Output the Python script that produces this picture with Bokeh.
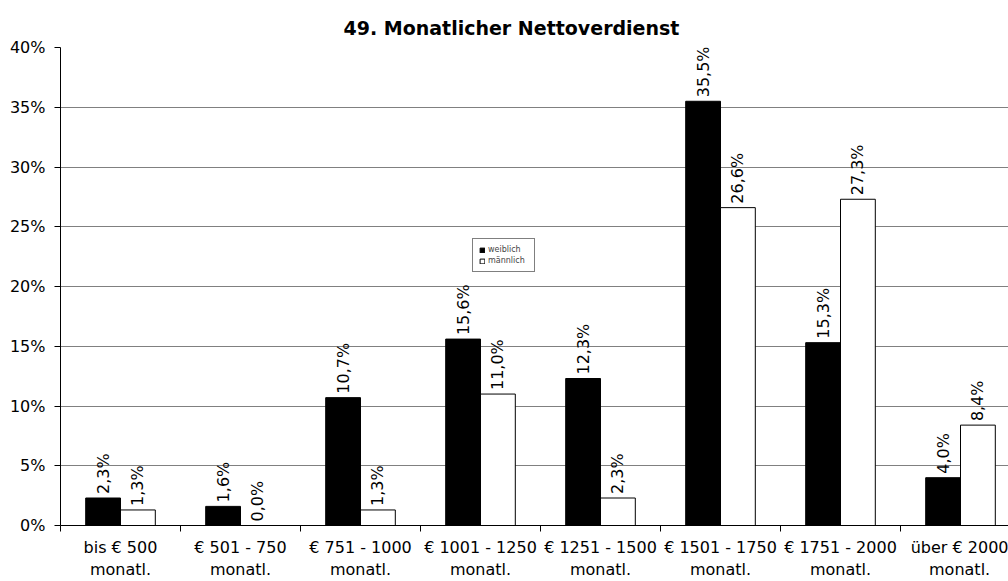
import math

from bokeh.core.properties import value
from bokeh.embed import file_html
from bokeh.models import (ColumnDataSource, FixedTicker, Legend,
                          LegendItem, Range1d)
from bokeh.plotting import figure
from bokeh.resources import INLINE

# Monthly net income by bracket, share of respondents in percent
categories = [
    "bis € 500\nmonatl.",
    "€ 501 - 750\nmonatl.",
    "€ 751 - 1000\nmonatl.",
    "€ 1001 - 1250\nmonatl.",
    "€ 1251 - 1500\nmonatl.",
    "€ 1501 - 1750\nmonatl.",
    "€ 1751 - 2000\nmonatl.",
    "über € 2000\nmonatl.",
]
weiblich = [2.3, 1.6, 10.7, 15.6, 12.3, 35.5, 15.3, 4.0]
maennlich = [1.3, 0.0, 1.3, 11.0, 2.3, 26.6, 27.3, 8.4]
y_ticks = [0, 5, 10, 15, 20, 25, 30, 35, 40]
title_text = "49. Monatlicher Nettoverdienst"

FONT = "DejaVu Sans"
BAR_W = 0.29
centers = [i + 0.5 for i in range(len(categories))]


def pct(v):
    return f"{v:.1f}".replace(".", ",") + "%"


src_w = ColumnDataSource(dict(
    x=[c - BAR_W / 2 for c in centers], top=weiblich,
    label=[pct(v) for v in weiblich]))
src_m = ColumnDataSource(dict(
    x=[c + BAR_W / 2 for c in centers], top=maennlich,
    label=[pct(v) for v in maennlich]))

p = figure(
    frame_width=948, frame_height=478,
    min_border_left=60, min_border_right=0, min_border_top=47,
    min_border_bottom=54,
    x_range=Range1d(0, 7.9), y_range=Range1d(0, 40),
    output_backend="svg", toolbar_location=None,
    title=title_text,
)
p.outline_line_color = None
p.background_fill_color = "white"
p.border_fill_color = "white"

p.title.align = "left"
p.title.offset = 283
p.title.standoff = 18
p.title.text_font = FONT
p.title.text_font_size = "19px"
p.title.text_font_style = "bold"
p.title.text_color = "black"

r_w = p.vbar(x="x", top="top", width=BAR_W, bottom=0, source=src_w,
             fill_color="black", line_color="black", line_width=1)
r_m = p.vbar(x="x", top="top", width=BAR_W, bottom=0, source=src_m,
             fill_color="white", line_color="black", line_width=1)

# value labels, rotated to read bottom-to-top above each bar
for src in (src_w, src_m):
    p.text(x="x", y="top", text="label", source=src, angle=math.pi / 2,
           text_align="left", text_baseline="middle", y_offset=-4,
           text_font=value(FONT), text_font_size="16px", text_color="black")

# x axis: labels centred on groups, tick marks on group boundaries
xa = p.xaxis[0]
xa.ticker = FixedTicker(ticks=centers,
                        minor_ticks=list(range(len(categories) + 1)))
xa.major_label_overrides = {c: lab for c, lab in zip(centers, categories)}
xa.major_tick_in = 0
xa.major_tick_out = 0
xa.minor_tick_in = 0
xa.minor_tick_out = 6
xa.minor_tick_line_color = "black"
xa.axis_line_color = "black"
xa.major_label_text_font = FONT
xa.major_label_text_font_size = "16px"
xa.major_label_text_color = "black"
xa.major_label_text_line_height = 1.2
xa.major_label_standoff = 6

ya = p.yaxis[0]
ya.ticker = FixedTicker(ticks=y_ticks, minor_ticks=[])
ya.major_label_overrides = {t: f"{t}%" for t in y_ticks}
ya.major_tick_in = 0
ya.major_tick_out = 6
ya.major_tick_line_color = "black"
ya.axis_line_color = "black"
ya.major_label_text_font = FONT
ya.major_label_text_font_size = "16px"
ya.major_label_text_color = "black"
ya.major_label_standoff = 9

p.xgrid.grid_line_color = None
p.ygrid.ticker = FixedTicker(ticks=y_ticks)
p.ygrid.grid_line_color = "#808080"
p.ygrid.grid_line_width = 1

legend = Legend(
    items=[LegendItem(label="weiblich", renderers=[r_w]),
           LegendItem(label="männlich", renderers=[r_m])],
    location=(412, 253),
    border_line_color="black", border_line_width=1,
    background_fill_color="white", background_fill_alpha=1,
    label_text_font=FONT, label_text_font_size="8px",
    glyph_width=6, glyph_height=6, label_height=8, label_width=40,
    label_standoff=3, spacing=2, padding=6, margin=0,
)
p.add_layout(legend, "center")

open("out.html", "w").write(file_html(p, INLINE))
